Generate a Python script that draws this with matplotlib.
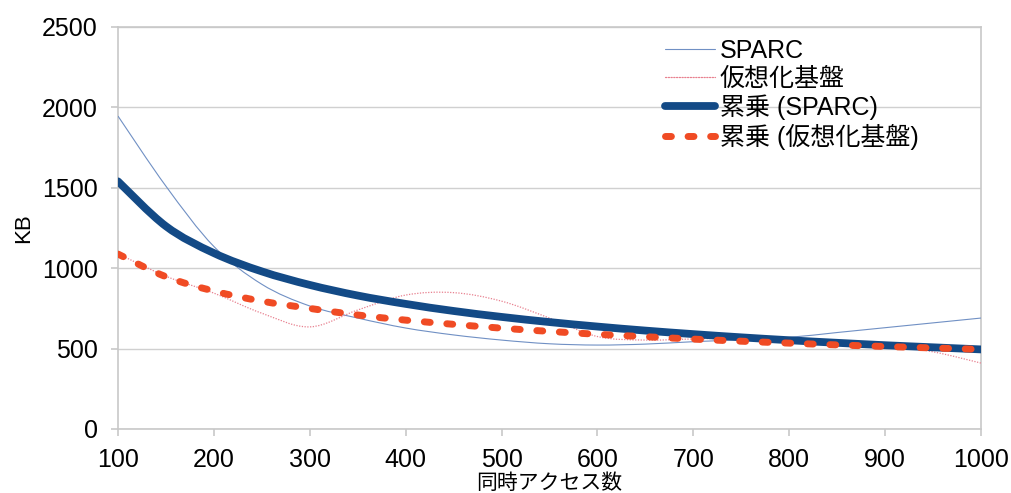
import matplotlib
matplotlib.use("Agg")
import matplotlib.pyplot as plt
from matplotlib.path import Path
from matplotlib.patches import PathPatch
from matplotlib.lines import Line2D

plt.rcParams['font.family'] = ['Liberation Sans', 'Noto Sans CJK JP', 'DejaVu Sans']

x_vals = [100, 150, 200, 250, 300, 350, 400, 450, 500, 550, 600, 650, 700, 750, 800, 850, 900, 950, 1000]
sparc = [1946, 1510, 1135, 900, 765, 690, 628, 585, 553, 530, 522, 528, 543, 555, 570, 600, 630, 660, 690]
virt = [1090, 950, 845, 720, 635, 740, 833, 848, 795, 690, 575, 553, 560, 565, 555, 540, 520, 480, 410]
pow_sparc = [1540, 1261, 1094, 980, 896, 830, 778, 734, 697, 665, 637, 612, 590, 570, 552, 536, 521, 508, 495]
pow_virt = [1088, 947, 858, 795, 750, 709, 677, 651, 627, 607, 589, 574, 559, 546, 534, 523, 513, 504, 495]

labels = ['SPARC', '仮想化基盤', '累乗 (SPARC)', '累乗 (仮想化基盤)']
x_ticks = [100, 200, 300, 400, 500, 600, 700, 800, 900, 1000]
y_ticks = [0, 500, 1000, 1500, 2000, 2500]


def smooth_path(xs, ys):
    """Smoothed line through the points (Catmull-Rom drawn as Bezier curves)."""
    verts = [(xs[0], ys[0])]
    codes = [Path.MOVETO]
    n = len(xs)
    for i in range(n - 1):
        x0, y0 = (xs[i - 1], ys[i - 1]) if i > 0 else (xs[i], ys[i])
        x1, y1 = xs[i], ys[i]
        x2, y2 = xs[i + 1], ys[i + 1]
        x3, y3 = (xs[i + 2], ys[i + 2]) if i + 2 < n else (xs[i + 1], ys[i + 1])
        c1 = (x1 + (x2 - x0) / 6.0, y1 + (y2 - y0) / 6.0)
        c2 = (x2 - (x3 - x1) / 6.0, y2 - (y3 - y1) / 6.0)
        verts += [c1, c2, (x2, y2)]
        codes += [Path.CURVE4] * 3
    return Path(verts, codes)


fig = plt.figure(figsize=(10.12, 4.93), dpi=100)
ax = fig.add_axes([118/1012, 1-429/493, (981-118)/1012, (429-27)/493])

styles = [
    dict(color='#7090C4', lw=0.8, ls='-', zorder=3),
    dict(color='#E8808F', lw=0.9, ls=(0, (1, 1.2)), zorder=3),
    dict(color='#134A86', lw=5.6, ls='-', zorder=4, capstyle='round'),
    dict(color='#F04B24', lw=5.0, ls=(0, (0.85, 2.4)), zorder=5, capstyle='round'),
]
series = [sparc, virt, pow_sparc, pow_virt]
handles = []
for ys, st, lab in zip(series, styles, labels):
    patch = PathPatch(smooth_path(x_vals, ys), facecolor='none', edgecolor=st['color'],
                      lw=st['lw'], ls=st['ls'], zorder=st['zorder'],
                      capstyle=st.get('capstyle', 'butt'), joinstyle='round')
    ax.add_patch(patch)
    handles.append(Line2D([], [], color=st['color'], lw=st['lw'], ls=st['ls'],
                          solid_capstyle='round', dash_capstyle='round', label=lab))

ax.set_xlim(100, 1000)
ax.set_ylim(0, 2500)
ax.set_xticks(x_ticks)
ax.set_yticks(y_ticks)
ax.grid(axis='y', color='#D0D0D0', lw=1.0)
ax.set_axisbelow(True)
for s in ax.spines.values():
    s.set_color('#C8C8C8')
    s.set_linewidth(1.2)
ax.tick_params(axis='both', colors='#C8C8C8', labelcolor='black', labelsize=18, length=5, width=1.2)
ax.tick_params(axis='x', pad=8.5)
ax.tick_params(axis='y', pad=9.5)

ax.set_ylabel('KB', fontsize=16, labelpad=6)
ax.set_xlabel('同時アクセス数', fontsize=15, labelpad=0, family=['Noto Sans CJK JP', 'DejaVu Sans'])

leg = ax.legend(handles=handles, loc='upper left', bbox_to_anchor=(0.622, 0.995), frameon=False, fontsize=18,
                handlelength=2.0, handletextpad=0.2, labelspacing=0.15, borderaxespad=0)

fig.savefig('out.png', dpi=100)
